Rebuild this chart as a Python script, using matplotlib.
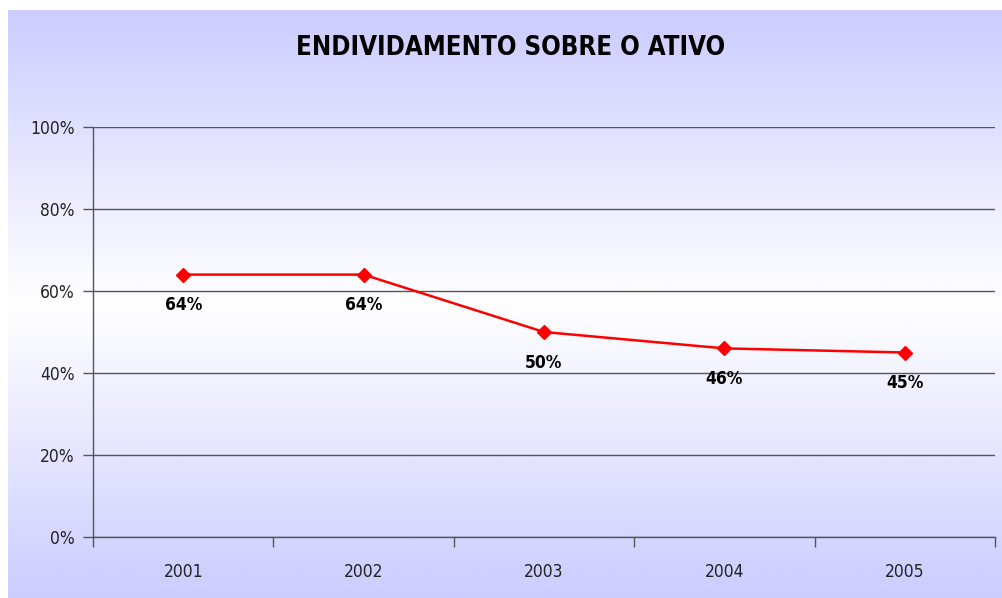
import numpy as np
import matplotlib
matplotlib.use("Agg")
import matplotlib.pyplot as plt
from matplotlib.colors import LinearSegmentedColormap

years = ["2001", "2002", "2003", "2004", "2005"]
values = [64, 64, 50, 46, 45]
labels = ["64%", "64%", "50%", "46%", "45%"]
yticks = [0, 20, 40, 60, 80, 100]
ytick_labels = ["0%", "20%", "40%", "60%", "80%", "100%"]
title = "ENDIVIDAMENTO SOBRE O ATIVO"

plt.rcParams['font.family'] = ["DejaVu Sans"]
plt.rcParams['font.stretch'] = "condensed"

fig = plt.figure(figsize=(10.02, 5.98), dpi=100)
fig.patch.set_facecolor("white")

bg = fig.add_axes([8/1002, 0, 994/1002, 588/598])
bg.set_axis_off()
cmap = LinearSegmentedColormap.from_list("g", ["#ccccff", "#ffffff", "#ccccff"])
grad = np.linspace(0, 1, 512).reshape(-1, 1)
bg.imshow(grad, aspect="auto", cmap=cmap, extent=[0, 1, 0, 1], origin="upper")
bg.set_xlim(0, 1); bg.set_ylim(0, 1)

ax = fig.add_axes([93/1002, 61/598, 902/1002, 410/598])
ax.patch.set_alpha(0)
x = np.arange(len(years))
ax.plot(x, values, color="#ff0000", lw=1.8, marker="D", markersize=7.5,
        markerfacecolor="#ff0000", markeredgecolor="#ff0000", zorder=3)
for xi, v, lab in zip(x, values, labels):
    ax.annotate(lab, (xi, v), xytext=(0, -22), textcoords="offset points",
                ha="center", va="center", fontsize=12.5, fontweight="bold",
                color="black")

ax.set_xlim(-0.5, len(years) - 0.5)
ax.set_ylim(0, 100)
ax.set_yticks(yticks)
ax.set_yticklabels(ytick_labels, fontsize=12.5, color="#222222")
ax.set_xticks(x)
ax.set_xticklabels(years, fontsize=12.5, color="#222222")
ax.tick_params(axis="x", which="major", length=0, pad=19)
ax.set_xticks(np.arange(len(years) + 1) - 0.5, minor=True)
ax.tick_params(axis="x", which="minor", length=7, direction="out", color="#555555", width=1)
ax.tick_params(axis="y", length=7, direction="out", color="#555555", width=1, pad=6)
ax.grid(axis="y", color="#555555", lw=1)
ax.set_axisbelow(True)
for s in ["top", "right"]:
    ax.spines[s].set_visible(False)
for s in ["left", "bottom"]:
    ax.spines[s].set_color("#555555")
    ax.spines[s].set_linewidth(1)

fig.text(511/1002, 1 - 48/598, title, ha="center", va="center",
         fontsize=18.5, fontweight="bold", color="black")

fig.savefig("out.png", dpi=100, facecolor=fig.get_facecolor())
